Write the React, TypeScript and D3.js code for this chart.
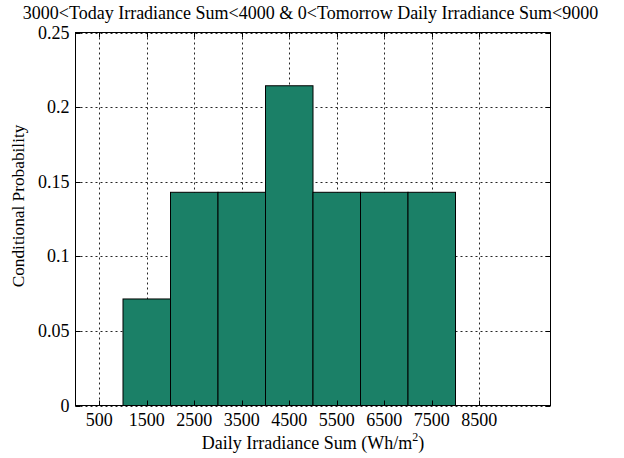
import React from "react";
import * as d3 from "d3";

const binEdges = [1000, 2000, 3000, 4000, 5000, 6000, 7000, 8000];
const probabilities = [0.0714, 0.1429, 0.1429, 0.2143, 0.1429, 0.1429, 0.1429];
const xTicks = [500, 1500, 2500, 3500, 4500, 5500, 6500, 7500, 8500];
const yTicks = [0, 0.05, 0.1, 0.15, 0.2, 0.25];
const yTickLabels = ["0", "0.05", "0.1", "0.15", "0.2", "0.25"];
const title = "3000<Today Irradiance Sum<4000 & 0<Tomorrow Daily Irradiance Sum<9000";

export default function App() {
  const W = 624, H = 458;
  const left = 75.5, right = 550.5, top = 32.5, bottom = 405.5;
  const x = d3.scaleLinear().domain([0, 10000]).range([left, right]);
  const y = d3.scaleLinear().domain([0, 0.25]).range([bottom, top]);
  const font = "'Liberation Serif', 'Times New Roman', Times, serif";
  const px = (v: number) => Math.round(v) + 0.5;
  return (
    <div style={{ position: "absolute", left: 0, top: 0 }}>
      <svg width={W} height={H} style={{ display: "block", background: "#fff", fontFamily: font }}>
        <rect x={0} y={0} width={W} height={H} fill="#fff" />
        {/* grid */}
        {xTicks.map((t) => (
          <line key={"gx" + t} x1={px(x(t))} x2={px(x(t))} y1={top} y2={bottom}
            stroke="#000" strokeWidth={1} strokeDasharray="2,3" opacity={0.85} />
        ))}
        {yTicks.map((t) => (
          <line key={"gy" + t} x1={left} x2={right} y1={px(y(t))} y2={px(y(t))}
            stroke="#000" strokeWidth={1} strokeDasharray="2,3" opacity={0.85} />
        ))}
        {/* bars */}
        {probabilities.map((p, i) => (
          <rect key={"b" + i} x={x(binEdges[i])} y={y(p)} width={x(binEdges[i + 1]) - x(binEdges[i])}
            height={y(0) - y(p)} fill="#1b8067" stroke="#000" strokeWidth={1} />
        ))}
        {/* ticks */}
        {xTicks.map((t) => (
          <g key={"tx" + t}>
            <line x1={px(x(t))} x2={px(x(t))} y1={bottom} y2={bottom - 5} stroke="#000" />
            <line x1={px(x(t))} x2={px(x(t))} y1={top} y2={top + 5} stroke="#000" />
            <text x={x(t)} y={426} textAnchor="middle" fontSize={18}>{t}</text>
          </g>
        ))}
        {yTicks.map((t, i) => (
          <g key={"ty" + t}>
            <line x1={left} x2={left + 5} y1={px(y(t))} y2={px(y(t))} stroke="#000" />
            <line x1={right} x2={right - 5} y1={px(y(t))} y2={px(y(t))} stroke="#000" />
            <text x={left - 6} y={y(t) + 6} textAnchor="end" fontSize={18}>{yTickLabels[i]}</text>
          </g>
        ))}
        {/* frame */}
        <rect x={left} y={top} width={right - left} height={bottom - top} fill="none" stroke="#000" strokeWidth={1} />
        {/* title */}
        <text x={310.5} y={19} textAnchor="middle" fontSize={18}>{title}</text>
        {/* x label */}
        <text x={(left + right) / 2} y={449} textAnchor="middle" fontSize={18}>
          Daily Irradiance Sum (Wh/m<tspan dy={-8} fontSize={12}>2</tspan><tspan dy={8}>)</tspan>
        </text>
        {/* y label */}
        <text transform={`translate(24, 206) rotate(-90)`} textAnchor="middle" fontSize={17.3}>
          Conditional Probability
        </text>
      </svg>
    </div>
  );
}
